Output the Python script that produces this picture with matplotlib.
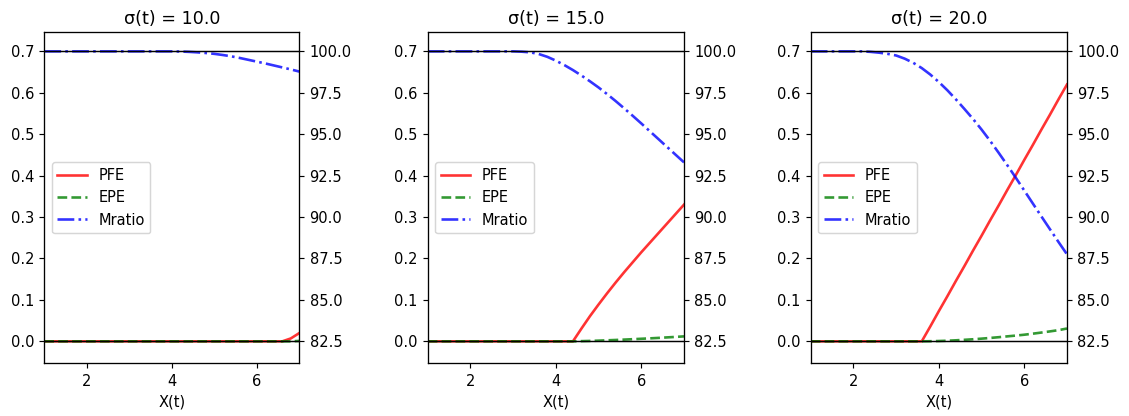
import matplotlib
matplotlib.use("Agg")
import matplotlib.pyplot as plt

# common x grid
x = [1.0, 1.2, 1.4, 1.6, 1.8, 2.0, 2.2, 2.4, 2.6, 2.8, 3.0, 3.2, 3.4, 3.6, 3.8,
     4.0, 4.2, 4.4, 4.6, 4.8, 5.0, 5.2, 5.4, 5.6, 5.8, 6.0, 6.2, 6.4, 6.6, 6.8, 7.0]

sigmas = [10.0, 15.0, 20.0]

# sigma = 10
pfe_10 = [0]*29 + [0.007, 0.02]
epe_10 = [0]*30 + [0.001]
mratio_10 = [100]*16 + [99.99, 99.97, 99.94, 99.9, 99.85, 99.78, 99.7, 99.6, 99.49,
                        99.38, 99.27, 99.15, 99.03, 98.91, 98.78]

# sigma = 15
pfe_15 = [0]*18 + [0.031, 0.061, 0.089, 0.116, 0.142, 0.167, 0.191, 0.215, 0.238,
                   0.261, 0.284, 0.307, 0.330]
epe_15 = [0]*18 + [0.0005, 0.001, 0.0017, 0.0025, 0.0033, 0.0042, 0.0052, 0.0062,
                   0.0072, 0.0083, 0.0095, 0.0107, 0.012]
mratio_15 = [100]*11 + [99.98, 99.94, 99.84, 99.67, 99.44, 99.17, 98.87, 98.54, 98.19,
                        97.82, 97.42, 97.0, 96.56, 96.11, 95.65, 95.18, 94.71, 94.24,
                        93.77, 93.3]

# sigma = 20
pfe_20 = [0]*14 + [0.036, 0.073, 0.109, 0.146, 0.182, 0.219, 0.255, 0.292, 0.328,
                   0.365, 0.401, 0.438, 0.474, 0.511, 0.547, 0.584, 0.620]
epe_20 = [0]*14 + [0.0003, 0.0008, 0.0015, 0.0025, 0.0037, 0.005, 0.0065, 0.0082,
                   0.01, 0.012, 0.0139, 0.016, 0.0185, 0.0212, 0.024, 0.027, 0.031]
mratio_20 = [100]*7 + [99.97, 99.92, 99.85, 99.75, 99.56, 99.31, 98.99, 98.6, 98.15,
                       97.65, 97.1, 96.52, 95.92, 95.28, 94.6, 93.88, 93.14, 92.38,
                       91.6, 90.82, 90.04, 89.27, 88.5, 87.75]

pfe = [pfe_10, pfe_15, pfe_20]
epe = [epe_10, epe_15, epe_20]
mratio = [mratio_10, mratio_15, mratio_20]

dpi = 105
fig = plt.figure(figsize=(1129/dpi, 416/dpi), dpi=dpi)

lefts = [44.3, 427.7, 810.7]
rights = [299.3, 684.0, 1067.0]
top, bottom = 32.3, 363.3

for i in range(3):
    ax = fig.add_axes([lefts[i]/1129, 1 - bottom/416,
                       (rights[i]-lefts[i])/1129, (bottom-top)/416])
    ax2 = ax.twinx()
    l1, = ax.plot(x, pfe[i], color='r', lw=1.8, alpha=0.8, label='PFE')
    l2, = ax.plot(x, epe[i], color='g', ls='--', lw=1.8, alpha=0.8, label='EPE')
    ax.axhline(0, color='k', lw=1)
    l3, = ax2.plot(x, mratio[i], color='b', ls='-.', lw=1.8, alpha=0.8, label='Mratio')
    ax2.axhline(100, color='k', lw=1)

    ax.set_xlim(1, 7)
    ax.set_ylim(-0.053, 0.746)
    ax.set_yticks([0.0, 0.1, 0.2, 0.3, 0.4, 0.5, 0.6, 0.7])
    ax2.set_ylim(82.5 - 0.053*25, 82.5 + 0.746*25)
    ax2.set_yticks([82.5, 85.0, 87.5, 90.0, 92.5, 95.0, 97.5, 100.0])
    ax2.set_yticklabels(['%.1f' % v for v in [82.5, 85.0, 87.5, 90.0, 92.5, 95.0, 97.5, 100.0]])
    ax.set_xticks([2, 4, 6])
    ax.set_xlabel('X(t)')
    ax.set_title('σ(t) = %.1f' % sigmas[i])
    ax2.legend([l1, l2, l3], ['PFE', 'EPE', 'Mratio'], loc='center left')

plt.savefig('out.png', dpi=dpi)
